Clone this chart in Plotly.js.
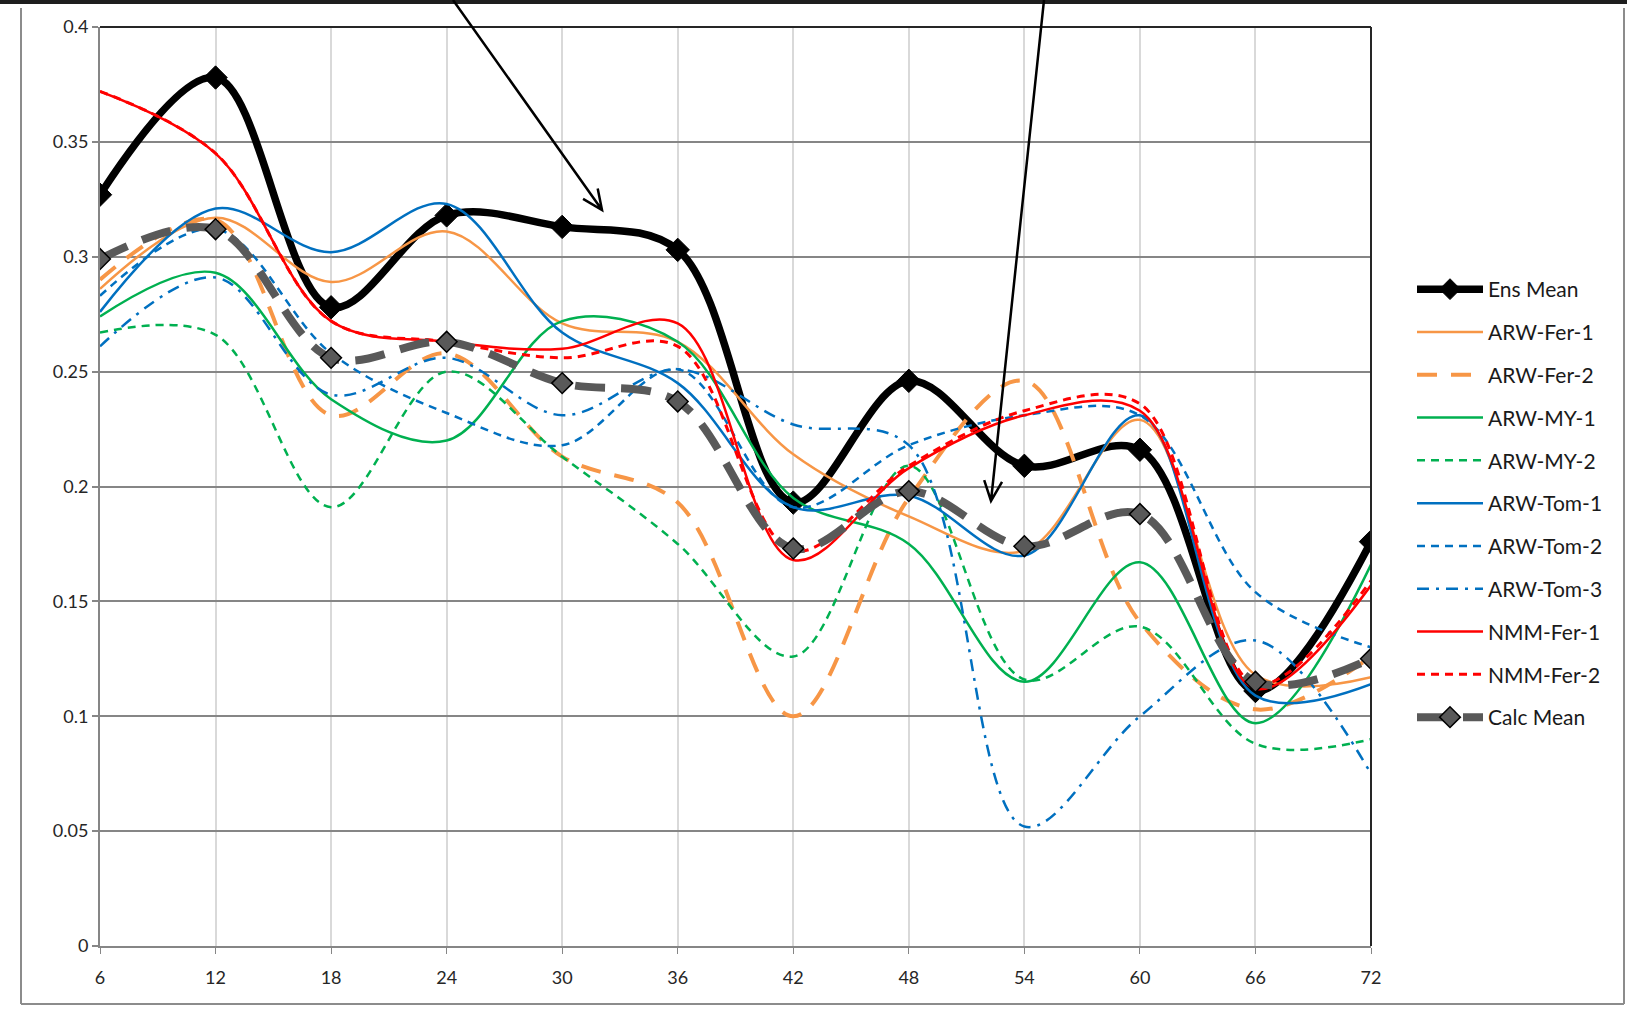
<!DOCTYPE html>
<html>
<head>
<meta charset="utf-8">
<script src="https://cdn.plot.ly/plotly-3.0.1.min.js"></script>
<style>
html,body{margin:0;padding:0;background:#fff;}
#chart{width:1627px;height:1009px;}
</style>
</head>
<body>
<div id="chart"></div>
<script>
// ---- data ----
const hours = [6, 12, 18, 24, 30, 36, 42, 48, 54, 60, 66, 72];
const ensMean  = [0.327, 0.378, 0.278, 0.318, 0.313, 0.303, 0.193, 0.246, 0.209, 0.216, 0.111, 0.176];
const arwFer1  = [0.286, 0.317, 0.289, 0.311, 0.271, 0.263, 0.214, 0.187, 0.172, 0.229, 0.118, 0.117];
const arwFer2  = [0.290, 0.316, 0.231, 0.258, 0.213, 0.193, 0.100, 0.195, 0.246, 0.141, 0.103, 0.126];
const arwMY1   = [0.274, 0.293, 0.238, 0.220, 0.272, 0.263, 0.195, 0.175, 0.115, 0.167, 0.097, 0.166];
const arwMY2   = [0.267, 0.266, 0.191, 0.250, 0.213, 0.175, 0.126, 0.209, 0.116, 0.139, 0.088, 0.090];
const arwTom1  = [0.276, 0.321, 0.302, 0.323, 0.267, 0.245, 0.191, 0.196, 0.170, 0.231, 0.109, 0.114];
const arwTom2  = [0.283, 0.312, 0.258, 0.232, 0.218, 0.251, 0.191, 0.218, 0.231, 0.231, 0.154, 0.130];
const arwTom3  = [0.261, 0.291, 0.240, 0.256, 0.231, 0.251, 0.227, 0.218, 0.052, 0.100, 0.133, 0.075];
const nmmFer1  = [0.372, 0.345, 0.272, 0.263, 0.260, 0.271, 0.168, 0.208, 0.231, 0.233, 0.112, 0.157];
const nmmFer2  = [0.372, 0.345, 0.272, 0.263, 0.256, 0.261, 0.172, 0.209, 0.233, 0.236, 0.114, 0.159];
const calcMean = [0.299, 0.312, 0.256, 0.263, 0.245, 0.237, 0.173, 0.198, 0.174, 0.188, 0.115, 0.125];
const yTicks = [0, 0.05, 0.1, 0.15, 0.2, 0.25, 0.3, 0.35, 0.4];

const ORANGE = '#F79646', GREEN = '#00B050', BLUE = '#0070C0', RED = '#FF0000';

function line(name, y, color, width, dash, extra) {
  return Object.assign({
    type: 'scatter', mode: 'lines', name: name, x: hours, y: y,
    legendgroup: name,
    line: {color: color, width: width, dash: dash, shape: 'spline', smoothing: 1}
  }, extra || {});
}

const traces = [
  line('Ens Mean', ensMean, '#000000', 7.5, 'solid', {mode: 'lines+markers',
    marker: {symbol: 'diamond', size: 18, color: '#000000', line: {color: '#000', width: 1}}}),
  line('ARW-Fer-1', arwFer1, ORANGE, 2.5, 'solid'),
  line('ARW-Fer-2', arwFer2, ORANGE, 4, '20px,14px'),
  line('ARW-MY-1', arwMY1, GREEN, 2.5, 'solid'),
  line('ARW-MY-2', arwMY2, GREEN, 2.5, '8px,6px'),
  line('ARW-Tom-1', arwTom1, BLUE, 2.5, 'solid'),
  line('ARW-Tom-2', arwTom2, BLUE, 2.5, '8px,6px'),
  line('ARW-Tom-3', arwTom3, BLUE, 2.5, '12px,7px,3px,7px'),
  line('NMM-Fer-1', nmmFer1, RED, 2.5, 'solid'),
  line('NMM-Fer-2', nmmFer2, RED, 3, '8px,6px'),
  line('Calc Mean', calcMean, '#595959', 8, '30px,16px', {mode: 'lines+markers',
    marker: {symbol: 'diamond', size: 16, color: '#595959', line: {color: '#000', width: 1.5}}})
];

// plot area in pixels
const W = 1627, H = 1009, L = 100, R = 1371, T = 27, B = 946;
const px = v => (v - L) / (R - L);
const py = v => (B - v) / (B - T);

function arrowPath(tx, ty, hx, hy) {
  const dx = hx - tx, dy = hy - ty, len = Math.hypot(dx, dy);
  const ux = -dx / len, uy = -dy / len, wl = 22, a = 0.42;
  const w1x = hx + wl * (ux * Math.cos(a) - uy * Math.sin(a));
  const w1y = hy + wl * (ux * Math.sin(a) + uy * Math.cos(a));
  const w2x = hx + wl * (ux * Math.cos(-a) - uy * Math.sin(-a));
  const w2y = hy + wl * (ux * Math.sin(-a) + uy * Math.cos(-a));
  return `M${px(tx)},${py(ty)} L${px(hx)},${py(hy)} M${px(w1x)},${py(w1y)} L${px(hx)},${py(hy)} L${px(w2x)},${py(w2y)}`;
}

const shapes = [
  {type: 'line', xref: 'paper', yref: 'paper', x0: px(21), x1: px(21), y0: py(8), y1: py(1004), line: {color: '#8c8c8c', width: 2}},
  {type: 'line', xref: 'paper', yref: 'paper', x0: px(21), x1: px(1624), y0: py(1004), y1: py(1004), line: {color: '#8c8c8c', width: 2}},
  {type: 'line', xref: 'paper', yref: 'paper', x0: px(1624), x1: px(1624), y0: py(8), y1: py(1004), line: {color: '#8c8c8c', width: 2}},
  {type: 'rect', xref: 'paper', yref: 'paper', x0: px(0), x1: px(W), y0: py(0), y1: py(4), line: {width: 0}, fillcolor: '#1e1e1e'},
  {type: 'line', xref: 'paper', yref: 'paper', x0: 0, x1: 1, y0: 1, y1: 1, line: {color: '#262626', width: 2}},
  {type: 'line', xref: 'paper', yref: 'paper', x0: 1, x1: 1, y0: 0, y1: 1, line: {color: '#262626', width: 2}},
  {type: 'path', xref: 'paper', yref: 'paper', path: arrowPath(453, 0, 602, 210), line: {color: '#000', width: 2.5}},
  {type: 'path', xref: 'paper', yref: 'paper', path: arrowPath(1044, 0, 991, 501), line: {color: '#000', width: 2.5}}
];

const tickFont = {family: 'Lato, "Liberation Sans", sans-serif', size: 18, color: '#262626'};

const layout = {
  width: W, height: H,
  margin: {l: L, r: W - R, t: T, b: H - B, pad: 0},
  paper_bgcolor: '#ffffff', plot_bgcolor: '#ffffff',
  showlegend: true,
  legend: {
    x: px(1412), xanchor: 'left', y: py(269), yanchor: 'top',
    traceorder: 'grouped', tracegroupgap: 12.5, itemwidth: 66,
    font: {family: 'Lato, "Liberation Sans", sans-serif', size: 21, color: '#1a1a1a'},
    bgcolor: 'rgba(0,0,0,0)'
  },
  xaxis: {
    range: [6, 72], tickvals: hours, ticktext: hours.map(String),
    showgrid: true, gridcolor: '#d9d9d9', gridwidth: 2,
    showline: true, linecolor: '#868686', linewidth: 2,
    ticks: 'outside', ticklen: 6, tickcolor: '#868686', tickwidth: 1,
    ticklabelstandoff: 8,
    tickfont: tickFont, zeroline: false, fixedrange: true
  },
  yaxis: {
    range: [0, 0.4], tickvals: yTicks, ticktext: yTicks.map(String),
    showgrid: true, gridcolor: '#868686', gridwidth: 2,
    showline: true, linecolor: '#868686', linewidth: 2,
    ticks: 'outside', ticklen: 6, tickcolor: '#868686', tickwidth: 2,
    tickfont: tickFont, zeroline: false, fixedrange: true
  },
  shapes: shapes
};

Plotly.newPlot('chart', traces, layout, {displayModeBar: false, staticPlot: true});
</script>
</body>
</html>
